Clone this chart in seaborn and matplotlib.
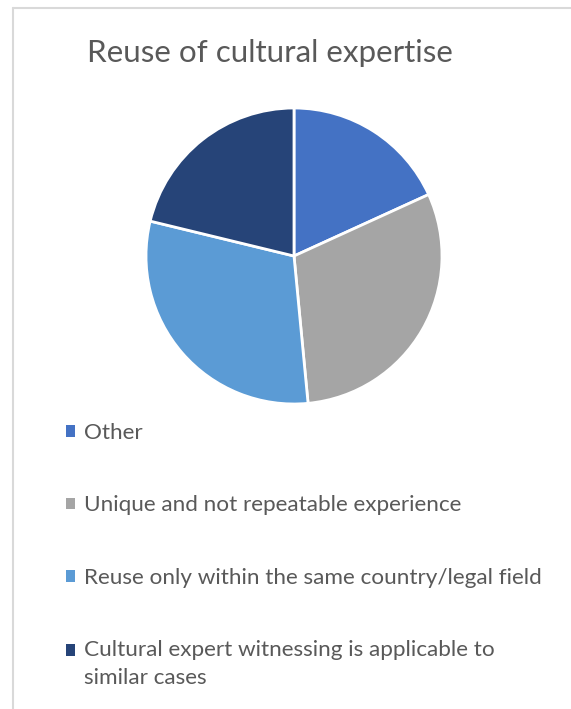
import matplotlib
matplotlib.use('Agg')
import matplotlib.pyplot as plt
import seaborn as sns

# data
labels = ['Other',
          'Unique and not repeatable experience',
          'Reuse only within the same country/legal field',
          'Cultural expert witnessing is applicable to\nsimilar cases']
counts = [6, 10, 10, 7]
colors = ['#4472C4', '#A5A5A5', '#5B9BD5', '#264478']

sns.set_theme(style='white')
plt.rcParams['font.family'] = ['Lato', 'DejaVu Sans']

fig = plt.figure(figsize=(5.71, 7.09), dpi=100)
W, H = 571, 709

# light frame (left and top edges visible)
fig.add_artist(plt.Line2D([13 / W, 13 / W], [0, 1 - 8 / H], transform=fig.transFigure,
                          color='#D9D9D9', lw=1.5))
fig.add_artist(plt.Line2D([13 / W, 1], [1 - 8 / H, 1 - 8 / H], transform=fig.transFigure,
                          color='#D9D9D9', lw=1.5))

# pie: centre (294, 256), radius 148 px
cx, cy, r = 294, 256, 148
ax = fig.add_axes([(cx - r) / W, 1 - (cy + r) / H, 2 * r / W, 2 * r / H])
wedges, _ = ax.pie(counts, colors=colors, startangle=90, counterclock=False,
                   wedgeprops=dict(edgecolor='white', linewidth=2), radius=1)
ax.set_xlim(-1, 1)
ax.set_ylim(-1, 1)
ax.set_aspect('equal')
ax.axis('off')

fig.text(270 / W, 1 - 53 / H, 'Reuse of cultural expertise', ha='center', va='center',
         fontsize=22.6, color='#595959')

fs = 16.2
leg = fig.legend(wedges, labels, loc='upper left', bbox_to_anchor=(66 / W, 1 - 423 / H),
                 frameon=False, fontsize=fs, labelcolor='#595959',
                 handlelength=0.42, handleheight=0.42, handletextpad=0.36,
                 labelspacing=2.33, borderaxespad=0, borderpad=0)
for h in leg.legend_handles:
    h.set_edgecolor('none')
leg.get_texts()[-1].set_linespacing(1.5)
# keep the marker of the two-line entry level with its first line
last = leg.legend_handles[-1]
last.set_y(last.get_y() + 10.4)

fig.savefig('out.png', dpi=100, facecolor='white')
